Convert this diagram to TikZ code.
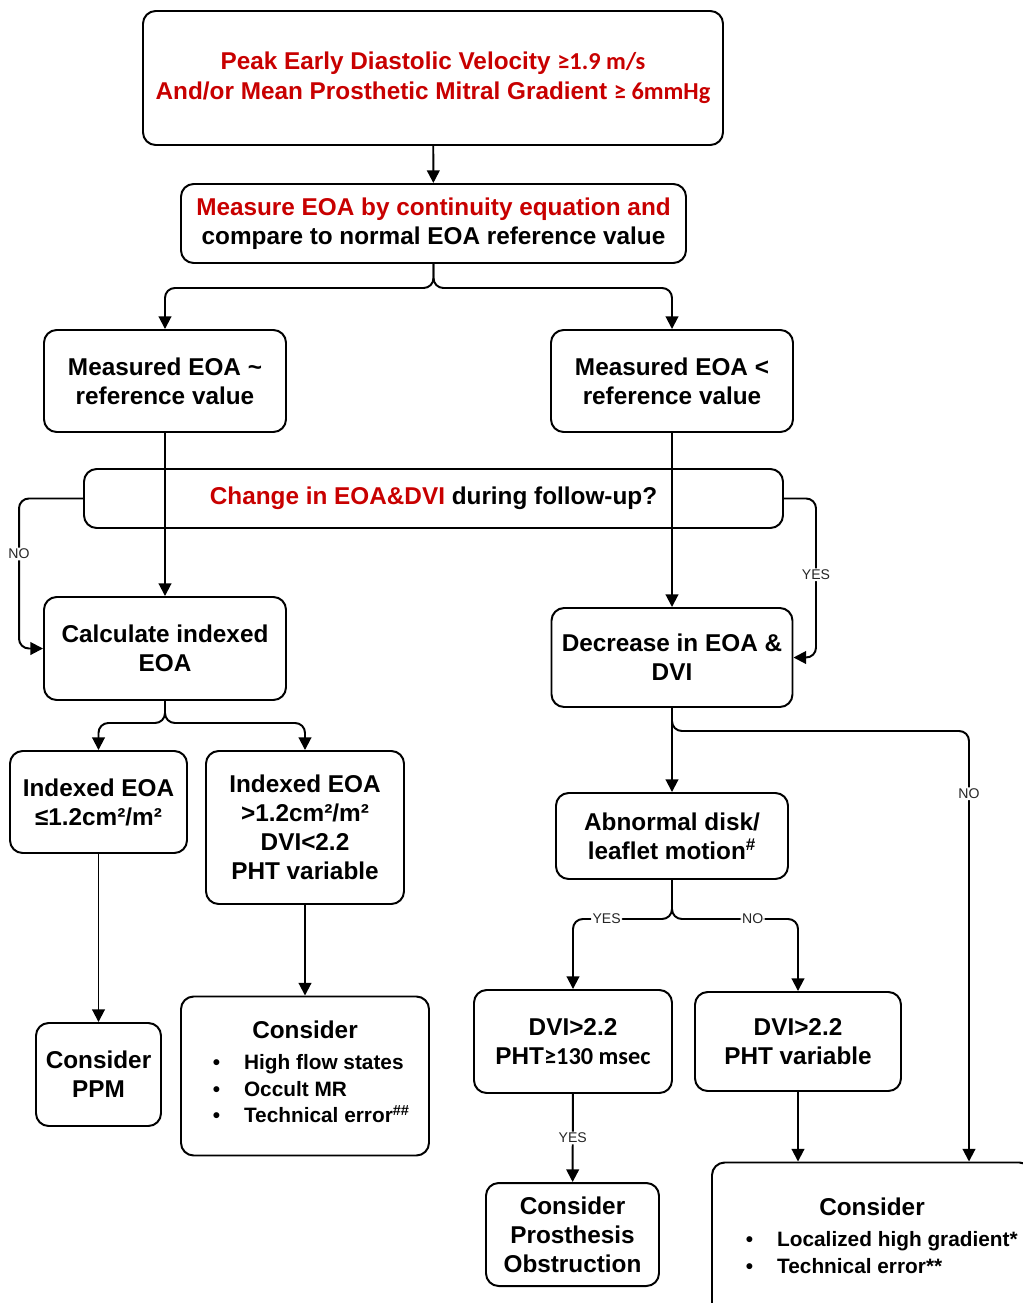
\documentclass[tikz,border=0pt]{standalone}
\usepackage{fontspec}
\setmainfont{Liberation Sans}
\newfontfamily\calfont{Carlito}
\usetikzlibrary{arrows.meta}

\definecolor{flowred}{RGB}{200,0,0}
\newcommand{\pxu}{0.025cm}
\newcommand{\boxfont}{\fontsize{17.3}{20.6}\selectfont\bfseries}
\newcommand{\listfont}{\fontsize{14.8}{19.4}\selectfont\bfseries}
\newcommand{\lblfont}{\fontsize{10}{12}\selectfont}

\tikzset{
  box/.style={draw, line width=1.4pt, rounded corners=9pt, align=center,
    inner sep=0pt, font=\boxfont},
  arr/.style={line width=1.4pt, rounded corners=7pt,
    -{Triangle[length=9pt,width=9pt]}},
  lbl/.style={fill=white, inner sep=1pt, font=\lblfont, text=black!85},
}

\begin{document}
\begin{tikzpicture}[x=\pxu, y=-\pxu]
\useasboundingbox (0,0) rectangle (1022,1303);

% boxes
\node[box, minimum width=580*\pxu, minimum height=134*\pxu, text=flowred] (top) at (433,78)
  {Peak Early Diastolic Velocity {\calfont ≥1.9 m/s}\\[1pt]
   And/or Mean Prosthetic Mitral Gradient {\calfont ≥ 6mmHg}};
\node[box, minimum width=505*\pxu, minimum height=79*\pxu] (meas) at (433.5,223.5)
  {\textcolor{flowred}{Measure EOA by continuity equation and}\\
   compare to normal EOA reference value};
\node[box, minimum width=242*\pxu, minimum height=102*\pxu] (mEq) at (165,381)
  {Measured EOA \textasciitilde\\reference value};
\node[box, minimum width=242*\pxu, minimum height=102*\pxu] (mLt) at (672,381)
  {Measured EOA <\\reference value};
\node[box, minimum width=699*\pxu, minimum height=59*\pxu] (chg) at (433.5,498.5)
  {\textcolor{flowred}{Change in EOA\&DVI} during follow-up?};
\node[box, minimum width=242*\pxu, minimum height=103*\pxu] (calc) at (165,648.5)
  {Calculate indexed\\EOA};
\node[box, minimum width=241*\pxu, minimum height=99*\pxu] (decr) at (672,657.5)
  {Decrease in EOA \&\\DVI};
\node[box, minimum width=177*\pxu, minimum height=102*\pxu] (ieLow) at (98.5,802)
  {Indexed EOA\\≤1.2cm²/m²};
\node[box, minimum width=198*\pxu, minimum height=153*\pxu] (ieHigh) at (305,827.5)
  {Indexed EOA\\>1.2cm²/m²\\DVI<2.2\\PHT variable};
\node[box, minimum width=125*\pxu, minimum height=103*\pxu] (ppm) at (98.5,1074.5)
  {Consider\\PPM};
\node[box, minimum width=248*\pxu, minimum height=159*\pxu] (consA) at (305,1076)
  {Consider\\[1pt]
   {\listfont\def\arraystretch{0.98}%
   \begin{tabular}[t]{@{\hspace{9pt}}l@{\hspace{17pt}}l@{}}
   •&High flow states\\
   •&Occult MR\\
   •&Technical error\textsuperscript{\#\#}
   \end{tabular}}};
\node[box, minimum width=232*\pxu, minimum height=86*\pxu] (abn) at (672,836)
  {Abnormal disk/\\leaflet motion\textsuperscript{\#}};
\node[box, minimum width=198*\pxu, minimum height=103*\pxu] (dviA) at (573,1041.5)
  {DVI>2.2\\PHT{\calfont ≥130 msec}};
\node[box, minimum width=206*\pxu, minimum height=99*\pxu] (dviB) at (798,1041.5)
  {DVI>2.2\\PHT variable};
\node[box, minimum width=173*\pxu, minimum height=103*\pxu] (obst) at (572.5,1234.5)
  {Consider\\Prosthesis\\Obstruction};
\node[box, minimum width=320*\pxu, minimum height=155*\pxu] (consB) at (872,1240)
  {Consider\\[1pt]
   {\listfont\def\arraystretch{1.0}%
   \begin{tabular}[t]{@{\hspace{14pt}}l@{\hspace{17pt}}l@{}}
   •&Localized high gradient*\\
   •&Technical error**
   \end{tabular}}};

% connectors
\draw[arr] (top) -- (meas);
\draw[arr] (meas.south) -- ++(0,24) -| (mEq.north);
\draw[arr] (meas.south) -- ++(0,24) -| (mLt.north);
\draw[arr] (mEq) -- (calc);
\draw[arr] (mLt.south) -- (decr.north);
\draw[arr] (chg.west) -- ++(-64,0) |- node[lbl, pos=0.185]{NO} (calc.west);
\draw[arr] (chg.east) -- ++(32,0) |- node[lbl, pos=0.24]{YES} (decr.east);
\draw[arr] (calc.south) -- ++(0,22) -| (ieLow.north);
\draw[arr] (calc.south) -- ++(0,22) -| (ieHigh.north);
\draw[arr] (ieLow) -- (ppm);
\draw[arr] (ieHigh.south) -- (consA.north);
\draw[arr] (decr) -- (abn);
\draw[arr] (decr.south) -- ++(0,23) -| node[lbl, pos=0.573]{NO} ([xshift=97*\pxu]consB.north);
\draw[arr] (abn.south) -- ++(0,39) -| node[lbl, pos=0.33]{YES} (dviA.north);
\draw[arr] (abn.south) -- ++(0,39) -| node[lbl, pos=0.32]{NO} (dviB.north);
\draw[arr] (dviA) -- node[lbl]{YES} (obst);
\draw[arr] (dviB.south) -- (dviB.south |- consB.north);

\end{tikzpicture}
\end{document}
